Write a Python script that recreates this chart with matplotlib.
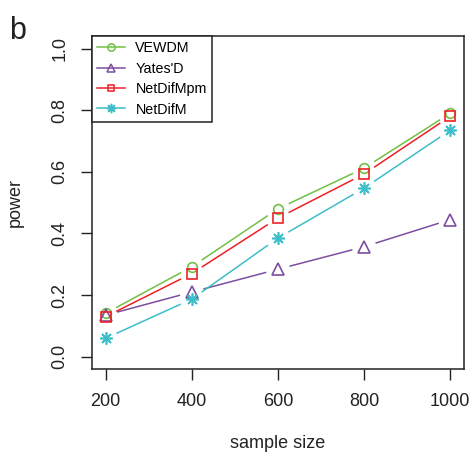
import numpy as np
import matplotlib
matplotlib.use("Agg")
import matplotlib.pyplot as plt
from matplotlib.lines import Line2D

plt.rcParams['font.family'] = ['Liberation Sans', 'DejaVu Sans']

sample_size = [200, 400, 600, 800, 1000]
vewdm = [0.141, 0.292, 0.480, 0.612, 0.790]
yates_d = [0.135, 0.210, 0.284, 0.357, 0.445]
netdifmpm = [0.130, 0.270, 0.450, 0.593, 0.780]
netdifm = [0.060, 0.187, 0.385, 0.547, 0.735]

names = ["VEWDM", "Yates'D", "NetDifMpm", "NetDifM"]
series = [vewdm, yates_d, netdifmpm, netdifm]
colors = ["#72BF44", "#7D4EA0", "#EE2027", "#3DBEC8"]
markers = ["o", "^", "s", (8, 2, 0)]
msizes = [7, 8, 6.5, 9]

fig = plt.figure(figsize=(4.73, 4.58), dpi=100)
ax = fig.add_axes([0.194, 0.194, 0.787, 0.727])
ax.set_xlim(168, 1032)
ax.set_ylim(-0.04, 1.04)

# R style type="b": segments stop short of the points
gap = 12.0
for vals, col in zip(series, colors):
    pts = ax.transData.transform(np.column_stack([sample_size, vals]))
    for p0, p1 in zip(pts[:-1], pts[1:]):
        d = p1 - p0
        n = np.hypot(*d)
        if n <= 2 * gap:
            continue
        u = d / n
        a = ax.transData.inverted().transform([p0 + u * gap, p1 - u * gap])
        ax.plot(a[:, 0], a[:, 1], color=col, lw=1.1, solid_capstyle='butt')

for vals, col, m, ms in zip(series, colors, markers, msizes):
    ax.plot(sample_size, vals, ls='none', marker=m, ms=ms, mfc='none',
            mec=col, mew=1.2)

ax.set_xticks(sample_size)
ax.set_yticks([0.0, 0.2, 0.4, 0.6, 0.8, 1.0])
ax.set_yticklabels(["0.0", "0.2", "0.4", "0.6", "0.8", "1.0"],
                   rotation=90, va='center')
ax.tick_params(axis='both', length=8, width=1, labelsize=13, pad=9,
               colors='#222222')
for s in ax.spines.values():
    s.set_linewidth(1.1)
    s.set_color('#222222')

ax.set_xlabel("sample size", fontsize=13, labelpad=18, color='#222222')
ax.set_ylabel("power", fontsize=13, labelpad=20, color='#222222')

handles = [Line2D([0], [0], color=c, marker=m, ms=ms * 0.75, mfc='none',
                  mec=c, mew=1.1, lw=1.1)
           for c, m, ms in zip(colors, markers, msizes)]
leg = ax.legend(handles, names, loc='upper left', bbox_to_anchor=(0, 1),
                borderaxespad=0, fancybox=False, framealpha=1,
                edgecolor='#222222', fontsize=10.3, handlelength=2.0,
                handletextpad=0.7, labelspacing=0.45, borderpad=0.35)
leg.get_frame().set_linewidth(1.1)

fig.text(0.02, 0.915, "b", fontsize=22, color='#222222')

fig.savefig("out.png", dpi=100)
